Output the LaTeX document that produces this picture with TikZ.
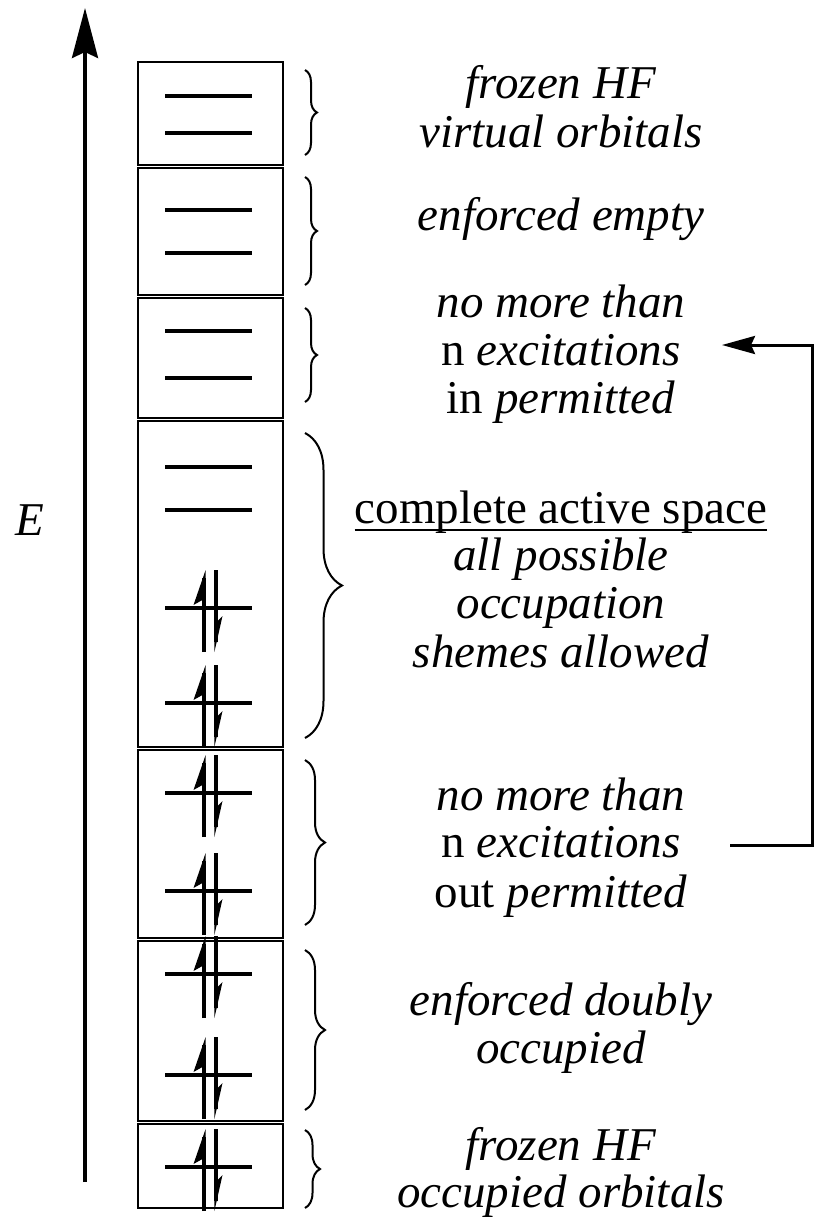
\documentclass[tikz,border=0pt]{standalone}
\usepackage{fontspec}
\setmainfont{Liberation Serif}
\usetikzlibrary{arrows.meta,decorations.pathreplacing}
\begin{document}
\begin{tikzpicture}[x=1pt,y=-1pt,
  orbbox/.style={draw, line width=2.5pt},
  level/.style={line width=4pt},
  spinline/.style={line width=3.2pt},
  lbl/.style={anchor=base, inner sep=0pt, font=\fontsize{47}{48}\selectfont},
  brc/.style={decorate, line width=2pt, decoration={brace, amplitude=#1}},
  conn/.style={line width=3pt},
]
\useasboundingbox (0,0) rectangle (817,1219);

% energy axis
\coordinate (Ebot) at (85,1182);
\coordinate (Etop) at (85,8);
\draw[line width=3.5pt, -{Stealth[length=50pt,width=26pt,inset=6pt]}] (Ebot) -- (Etop);
\node[lbl] (E) at (30,535) {\textit{E}};

% boxes
\draw[orbbox] (138,62) rectangle (283,165);
\draw[orbbox] (138,168) rectangle (283,295);
\draw[orbbox] (138,298) rectangle (283,418);
\draw[orbbox] (138,421) rectangle (283,747);
\draw[orbbox] (138,750) rectangle (283,938);
\draw[orbbox] (138,941) rectangle (283,1121);
\draw[orbbox] (138,1124) rectangle (283,1208);

% levels
\foreach \y in {96,133,210,253,331,378,467,510,608,703,793,891,974,1075,1167}
  \draw[level] (165,\y) -- (252,\y);

% spins
\foreach \L in {608,703,793,891,974,1075,1167} {
  \draw[spinline] (204,\L+44) -- (204,\L-30);
  \fill (205.6,\L-38) -- (193.5,\L-3) -- (202.4,\L-8) -- (202.4,\L-30) -- (205.6,\L-30) -- cycle;
  \draw[spinline] (216,\L-38) -- (216,\L+34);
  \fill (214.4,\L+44) -- (222.5,\L+8) -- (217.6,\L+13) -- (217.6,\L+34) -- (214.4,\L+34) -- cycle;
}

% braces
\draw[brc=12pt] (305,70) -- (305,155);
\draw[brc=12pt] (305,177) -- (305,285);
\draw[brc=12pt] (305,308) -- (305,402);
\draw[brc=37pt] (305,433) -- (305,738);
\draw[brc=20pt] (305,760) -- (305,925);
\draw[brc=20pt] (305,950) -- (305,1110);
\draw[brc=15pt] (305,1130) -- (305,1208);

% labels
\node[lbl] (t1a) at (561,98) {\textit{frozen HF}};
\node[lbl] (t1b) at (561,147) {\textit{virtual orbitals}};
\node[lbl] (t2) at (561,230) {\textit{enforced empty}};
\node[lbl] (t3a) at (561,317) {\textit{no more than}};
\node[lbl] (t3b) at (561,365) {n \textit{excitations}};
\node[lbl] (t3c) at (561,413) {in \textit{permitted}};
\node[lbl] (t4a) at (561,523) {complete active space};
\draw[line width=2pt] ([yshift=-7pt]t4a.base west) -- ([yshift=-7pt]t4a.base east);
\node[lbl] (t4b) at (561,570) {\textit{all possible}};
\node[lbl] (t4c) at (561,618) {\textit{occupation}};
\node[lbl] (t4d) at (561,667) {\textit{shemes allowed}};
\node[lbl] (t5a) at (561,810) {\textit{no more than}};
\node[lbl] (t5b) at (561,857) {n \textit{excitations}};
\node[lbl] (t5c) at (561,907) {out \textit{permitted}};
\node[lbl] (t6a) at (561,1015) {\textit{enforced doubly}};
\node[lbl] (t6b) at (561,1063) {\textit{occupied}};
\node[lbl] (t7a) at (561,1160) {\textit{frozen HF}};
\node[lbl] (t7b) at (561,1207) {\textit{occupied orbitals}};

% connector from "out" to "in"
\coordinate (outP) at (730,845);
\coordinate (inP) at (722,345);
\draw[conn, -{Stealth[length=33pt,width=18pt,inset=4pt]}] (outP) -- ++(82,0) |- (inP);
\end{tikzpicture}
\end{document}
